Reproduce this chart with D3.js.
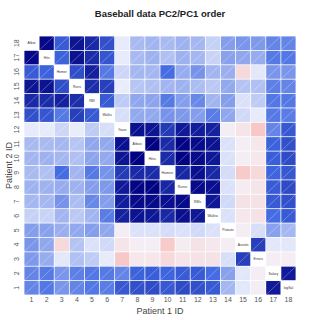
<!DOCTYPE html>
<html>
<head>
<meta charset="utf-8">
<script src="https://cdn.jsdelivr.net/npm/d3@7"></script>
<style>
    body { margin: 0; background: #fff; }
    text { font-family: "Liberation Sans", Arial, sans-serif; }
</style>
</head>
<body>
<div id="corr_chart"></div>
<script>
// variable names, in plotted order (column 1 .. 18)
const variables = ["Atbat", "Hits", "Homer", "Runs", "RBI", "Walks", "Years",
    "Atbatc", "Hitsc", "Homerc", "Runsc", "RBIc", "Walksc",
    "Putouts", "Assists", "Errors", "Salary", "logSal"];

// lower triangle of correlations, row k = corr of variable k with variables 0..k-1
const lowerTri = [
    [],
    [0.96],
    [0.56, 0.53],
    [0.90, 0.91, 0.63],
    [0.80, 0.79, 0.85, 0.78],
    [0.62, 0.59, 0.44, 0.70, 0.57],
    [0.04, 0.04, 0.11, 0.03, 0.15, 0.08],
    [0.21, 0.21, 0.22, 0.17, 0.28, 0.27, 0.92],
    [0.23, 0.24, 0.22, 0.19, 0.29, 0.27, 0.90, 0.99],
    [0.21, 0.19, 0.49, 0.23, 0.44, 0.35, 0.72, 0.80, 0.79],
    [0.24, 0.24, 0.26, 0.24, 0.31, 0.33, 0.88, 0.98, 0.99, 0.82],
    [0.22, 0.22, 0.35, 0.20, 0.39, 0.31, 0.86, 0.95, 0.95, 0.93, 0.95],
    [0.13, 0.12, 0.23, 0.16, 0.23, 0.43, 0.84, 0.91, 0.89, 0.81, 0.93, 0.89],
    [0.31, 0.30, 0.25, 0.27, 0.31, 0.28, -0.03, 0.07, 0.07, 0.09, 0.07, 0.10, 0.07],
    [0.34, 0.28, -0.12, 0.18, 0.07, 0.10, -0.07, -0.03, -0.03, -0.18, -0.04, -0.08, -0.06, -0.03],
    [0.33, 0.26, 0.05, 0.19, 0.15, 0.04, -0.19, -0.06, -0.06, -0.12, -0.07, -0.08, -0.08, 0.08, 0.70],
    [0.40, 0.44, 0.34, 0.42, 0.45, 0.44, 0.40, 0.53, 0.55, 0.52, 0.56, 0.57, 0.49, 0.30, 0.05, -0.03],
    [0.40, 0.45, 0.34, 0.40, 0.45, 0.43, 0.58, 0.62, 0.64, 0.58, 0.65, 0.62, 0.57, 0.22, 0.05, -0.03, 0.88]
];

// tick labels
const xTicks = d3.range(1, 19);
const yTicks = d3.range(1, 19);

const titleText = "Baseball data PC2/PC1 order";
const xLabel = "Patient 1 ID";
const yLabel = "Patient 2 ID";

function corrAt(a, b) {
    if (a === b) return null;
    return a > b ? lowerTri[a][b] : lowerTri[b][a];
}

function create_corr_chart(width, height) {
    const n = variables.length;

    // grid area
    const left = 24, right = 296, top = 36, bottom = 295;

    const svg = d3.select("#corr_chart")
        .append("svg")
        .attr("width", width)
        .attr("height", height);

    // band scales: column i -> patient 1 id, row j (1 at bottom) -> patient 2 id
    const xScale = d3.scaleBand()
        .domain(xTicks)
        .range([left, right]);

    const yScale = d3.scaleBand()
        .domain(yTicks)
        .range([bottom, top]);

    // corrgram style palette
    const color = d3.scaleLinear()
        .domain([-1, -0.5, 0, 0.5, 1])
        .range(["#FF0000", "#FA8072", "#F4F5FC", "#4169E1", "#000080"]);

    // build cells, row j shows variable n - j
    const cells = [];
    xTicks.forEach((xi, i) => {
        yTicks.forEach(yj => {
            const k = n - yj;
            cells.push({ x: xi, y: yj, v: corrAt(i, k), name: i === k ? variables[i] : null });
        });
    });

    const bw = xScale.bandwidth(), bh = yScale.bandwidth();
    const g = svg.append("g");

    g.selectAll(".cell")
        .data(cells)
        .enter().append("rect")
        .attr("class", "cell")
        .attr("x", d => xScale(d.x) + 0.4)
        .attr("y", d => yScale(d.y) + 0.4)
        .attr("width", bw - 0.8)
        .attr("height", bh - 0.8)
        .attr("fill", d => d.v === null ? "#fff" : color(d.v));

    // hatch line for positive correlations
    g.selectAll(".hatch")
        .data(cells.filter(d => d.v !== null && d.v > 0))
        .enter().append("line")
        .attr("class", "hatch")
        .attr("x1", d => xScale(d.x))
        .attr("y1", d => yScale(d.y) + bh)
        .attr("x2", d => xScale(d.x) + bw)
        .attr("y2", d => yScale(d.y))
        .attr("stroke", "#fff")
        .attr("stroke-opacity", 0.4)
        .attr("stroke-width", 0.7);

    // names on the diagonal
    g.selectAll(".diag")
        .data(cells.filter(d => d.name))
        .enter().append("text")
        .attr("class", "diag")
        .attr("x", d => xScale(d.x) + bw / 2)
        .attr("y", d => yScale(d.y) + bh / 2 + 1.2)
        .attr("text-anchor", "middle")
        .style("font-size", "3.4px")
        .attr("fill", "#333")
        .text(d => d.name);

    // x axis tick labels
    svg.append("g")
        .selectAll("text")
        .data(xTicks)
        .enter().append("text")
        .attr("x", d => xScale(d) + bw / 2)
        .attr("y", 302)
        .attr("text-anchor", "middle")
        .style("font-size", "7px")
        .attr("fill", "#555")
        .text(d => d);

    // y axis tick labels (rotated)
    svg.append("g")
        .selectAll("text")
        .data(yTicks)
        .enter().append("text")
        .attr("transform", d => `translate(19, ${yScale(d) + bh / 2}) rotate(-90)`)
        .attr("text-anchor", "middle")
        .style("font-size", "7px")
        .attr("fill", "#555")
        .text(d => d);

    // title
    svg.append("text")
        .attr("text-anchor", "middle")
        .attr("x", 160)
        .attr("y", 17)
        .style("font-size", "9.5px")
        .style("font-weight", "bold")
        .attr("fill", "#222")
        .text(titleText);

    // x axis label
    svg.append("text")
        .attr("text-anchor", "middle")
        .attr("x", (left + right) / 2)
        .attr("y", 314)
        .style("font-size", "9px")
        .attr("fill", "#444")
        .text(xLabel);

    // y axis label
    svg.append("text")
        .attr("text-anchor", "middle")
        .attr("transform", `translate(12, ${(top + bottom) / 2}) rotate(-90)`)
        .style("font-size", "9px")
        .attr("fill", "#444")
        .text(yLabel);
}

create_corr_chart(320, 320);
</script>
</body>
</html>
